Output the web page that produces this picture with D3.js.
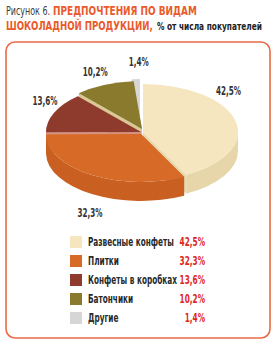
<!DOCTYPE html>
<html><head><meta charset="utf-8">
<script src="https://cdn.jsdelivr.net/npm/d3@7"></script>
<style>
html,body{margin:0;padding:0;background:#fff;}
svg{display:block;}
text{font-family:"DejaVu Sans Condensed","Liberation Sans Narrow","Liberation Sans",sans-serif;font-stretch:condensed;}
</style></head>
<body>
<svg id="chart" width="277" height="349"></svg>
<script>
// ---- data ----
const categories = ["Развесные конфеты", "Плитки", "Конфеты в коробках", "Батончики", "Другие"];
const values = [42.5, 32.3, 13.6, 10.2, 1.4];
const valueLabels = ["42,5%", "32,3%", "13,6%", "10,2%", "1,4%"];
const titleParts = ["Рисунок 6.", "ПРЕДПОЧТЕНИЯ ПО ВИДАМ", "ШОКОЛАДНОЙ ПРОДУКЦИИ,", "% от числа покупателей"];

// ---- styles / layout ----
const topColors  = ["#f6e6bf", "#d66a26", "#8e3b2e", "#8a7a2e", "#d6d6d6"];
const sideColors = ["#e6d6aa", "#c95f20", "#7a3024", "#75661f", "#c2c2c2"];
const wallColors = ["#e9d9ae", "#e08a55", "#d8917f", "#d9c894", "#c8c8c8"];
const explode = [[2,0],[0,2],[0,0],[1,-3],[-1,-5]];
const labelOff = [[-7,-30],[-2,38],[-9,-12],[-9,-13],[3,-17]];
const drawOrder = [4,3,2,0,1];
// title part layout: x, baseline, target width, size, weight, colour
const titleLayout = [
  [6, 15, 44, 11.5, "normal", "#3c3c3c"],
  [53, 15, 144, 12.8, "bold", "#ea5a2b"],
  [6, 30, 147, 12.8, "bold", "#ea5a2b"],
  [157, 30, 105, 10.5, "bold", "#222"]
];

const svg = d3.select("#chart");
const cx = 141, cy = 132, rx = 95, ry = 48, depth = 19;

function addText(parent, str, x, y, opts){
  const g = parent.append("g").attr("transform", `translate(${x},${y})`);
  const t = g.append("text").attr("x",0).attr("y",0)
    .attr("font-size", opts.size).attr("font-weight", opts.weight || "normal")
    .attr("fill", opts.fill).attr("text-anchor", opts.anchor || "start").text(str);
  const w = t.node().getComputedTextLength();
  const s = opts.width ? opts.width / w : (opts.scale || 1);
  t.attr("transform", `scale(${s},1)`);
  return {w, s};
}

// frame
svg.append("rect").attr("x",6).attr("y",42).attr("width",264).attr("height",296)
  .attr("rx",9).attr("fill","#fff").attr("stroke","#ea6a45").attr("stroke-width",1.6);

// title
titleParts.forEach((s,i) => {
  const L = titleLayout[i];
  addText(svg, s, L[0], L[1], {size:L[3], weight:L[4], fill:L[5], width:L[2]});
});

// pie
const pie = d3.pie().sort(null).startAngle(0).endAngle(2*Math.PI);
const arcs = pie(values);

function P(a, off, z){ return [cx + off[0] + rx*Math.sin(a), cy + off[1] - ry*Math.cos(a) + (z||0)]; }
function topPath(d, off){
  const c = [cx+off[0], cy+off[1]];
  const p0 = P(d.startAngle, off), p1 = P(d.endAngle, off);
  const large = (d.endAngle - d.startAngle) > Math.PI ? 1 : 0;
  return `M${c}L${p0}A${rx},${ry} 0 ${large} 1 ${p1}Z`;
}
function outerPath(d, off){
  const s = Math.max(d.startAngle, Math.PI/2), e = Math.min(d.endAngle, 3*Math.PI/2);
  if (s >= e) return null;
  const a = P(s, off), b = P(e, off), bb = P(e, off, depth), aa = P(s, off, depth);
  return `M${a}A${rx},${ry} 0 0 1 ${b}L${bb}A${rx},${ry} 0 0 0 ${aa}Z`;
}
function wallPath(angle, off){
  const c = [cx+off[0], cy+off[1]], cd = [cx+off[0], cy+off[1]+depth];
  return `M${c}L${P(angle,off)}L${P(angle,off,depth)}L${cd}Z`;
}

const g = svg.append("g");
drawOrder.forEach(i => {
  const d = arcs[i], off = explode[i];
  const sg = g.append("g");
  sg.append("path").attr("d", wallPath(d.startAngle, off)).attr("fill", wallColors[i]);
  sg.append("path").attr("d", wallPath(d.endAngle, off)).attr("fill", wallColors[i]);
  const op = outerPath(d, off);
  if (op) sg.append("path").attr("d", op).attr("fill", sideColors[i]);
  sg.append("path").attr("d", topPath(d, off)).attr("fill", topColors[i]);
});

// value labels near slices
let pieScale = null;
arcs.forEach((d,i) => {
  const m = (d.startAngle + d.endAngle)/2;
  const p = P(m, explode[i]);
  const o = {size:11.5, weight:"bold", fill:"#333", anchor:"middle"};
  if (pieScale === null) { o.width = 25; } else { o.scale = pieScale; }
  const r = addText(svg, valueLabels[i], p[0]+labelOff[i][0], p[1]+labelOff[i][1]+4, o);
  if (pieScale === null) pieScale = r.s;
});

// legend
const ly = d3.scaleBand().domain(categories).range([232.5, 327.5]);
const lg = svg.append("g");
let legScale = null;
categories.forEach((c,i) => {
  const y = ly(c) + ly.bandwidth()/2;
  lg.append("rect").attr("x",70).attr("y",y-6).attr("width",12).attr("height",12).attr("fill",topColors[i]);
  const o = {size:11.5, weight:"bold", fill:"#2a2a2a"};
  if (legScale === null) o.width = 86; else o.scale = legScale;
  const r = addText(lg, c, 88, y+4, o);
  if (legScale === null) legScale = r.s;
  addText(lg, valueLabels[i], 205, y+4, {size:11.5, weight:"bold", fill:"#e0261c", anchor:"end", scale:legScale});
});
</script>
</body></html>
